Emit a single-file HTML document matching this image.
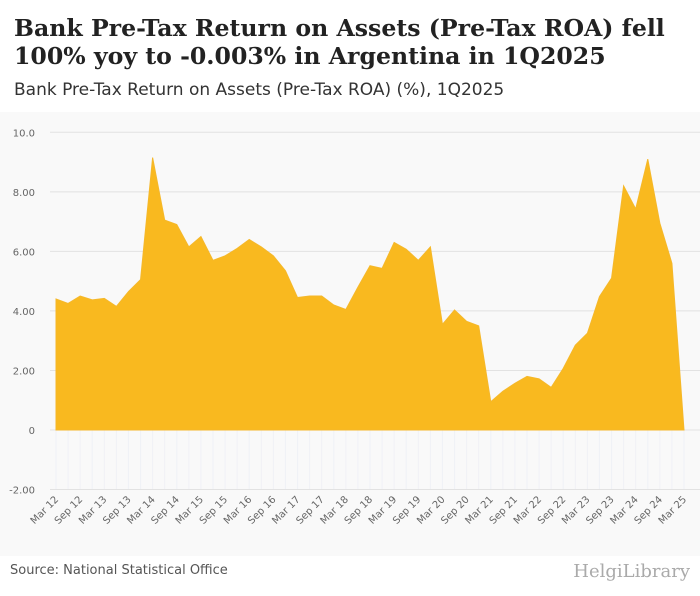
<!DOCTYPE html>
<html><head><meta charset="utf-8"><style>
body{margin:0;width:700px;height:596px;background:#fff;font-family:"DejaVu Sans",sans-serif;overflow:hidden}
#title{position:absolute;left:14px;top:14px;font-family:"DejaVu Serif",serif;font-weight:bold;font-size:23.6px;line-height:28px;color:#222;white-space:nowrap}
#sub{position:absolute;left:14px;top:80px;font-size:17px;color:#333;white-space:nowrap}
#src{position:absolute;left:10px;top:563px;font-size:13px;color:#555}
#logo{position:absolute;right:10px;top:561px;font-family:"DejaVu Serif",serif;font-size:18px;color:#aaa}
svg{position:absolute;left:0;top:0}
</style></head><body>
<div id="title">Bank Pre-Tax Return on Assets (Pre-Tax ROA) fell<br>100% yoy to -0.003% in Argentina in 1Q2025</div>
<div id="sub">Bank Pre-Tax Return on Assets (Pre-Tax ROA) (%), 1Q2025</div>
<svg id="chart" width="700" height="596">
<rect x="0" y="112" width="700" height="444" fill="#f9f9f9"/>
</svg>
<div id="src">Source: National Statistical Office</div>
<div id="logo">HelgiLibrary</div>
<script>
const values=[4.4,4.25,4.5,4.37,4.42,4.15,4.65,5.05,9.15,7.05,6.9,6.15,6.5,5.7,5.85,6.1,6.4,6.15,5.85,5.35,4.45,4.5,4.5,4.2,4.05,4.8,5.52,5.43,6.3,6.07,5.7,6.15,3.55,4.03,3.65,3.5,0.95,1.3,1.57,1.8,1.72,1.43,2.07,2.85,3.25,4.48,5.1,8.2,7.43,9.1,6.95,5.6,0];
const yTicks=[-2,0,2,4,6,8,10];
const yTickLabels=["-2.00","0","2.00","4.00","6.00","8.00","10.0"];
const xLabels=["Mar 12","Sep 12","Mar 13","Sep 13","Mar 14","Sep 14","Mar 15","Sep 15","Mar 16","Sep 16","Mar 17","Sep 17","Mar 18","Sep 18","Mar 19","Sep 19","Mar 20","Sep 20","Mar 21","Sep 21","Mar 22","Sep 22","Mar 23","Sep 23","Mar 24","Sep 24","Mar 25"];
const NS="http://www.w3.org/2000/svg",svg=document.getElementById('chart');
const x0=56,x1=684,y0v=430,pu=29.77;
const X=i=>x0+i*(x1-x0)/(values.length-1);
const Y=v=>y0v-v*pu;
function mk(t,a){const e=document.createElementNS(NS,t);for(const k in a)e.setAttribute(k,a[k]);svg.appendChild(e);return e;}
for(let i=0;i<values.length;i++){
 const l=mk('line',{x1:X(i),x2:X(i),y1:Y(0),y2:Y(-2),stroke:'#f0f1f6','stroke-width':1});
 
 
}
yTicks.forEach((t,i)=>{
 const g=mk('line',{x1:50,x2:700,y1:Y(t),y2:Y(t),stroke:'#e2e2e2','stroke-width':1});
 
 
 const tx=mk('text',{x:35,y:Y(t)+4,'text-anchor':'end','font-size':10,fill:'#666','font-family':'DejaVu Sans, sans-serif'});
 tx.textContent=yTickLabels[i];
 
 
});
let d='M'+X(0)+','+Y(0);
values.forEach((v,i)=>{d+=' L'+X(i)+','+Y(v);});
d+=' L'+X(values.length-1)+','+Y(0)+' Z';
const a=mk('path',{d:d,fill:'#f9b91f',stroke:'#f5b82a','stroke-width':1});


xLabels.forEach((lb,i)=>{
 const xx=X(i*2),yy=500;
 const t=mk('text',{x:xx+3,y:yy,'text-anchor':'end','font-size':10,fill:'#666','font-family':'DejaVu Sans, sans-serif',transform:'rotate(-45 '+(xx+3)+' '+yy+')'});
 t.textContent=lb;
 
 
});
</script>
</body></html>
